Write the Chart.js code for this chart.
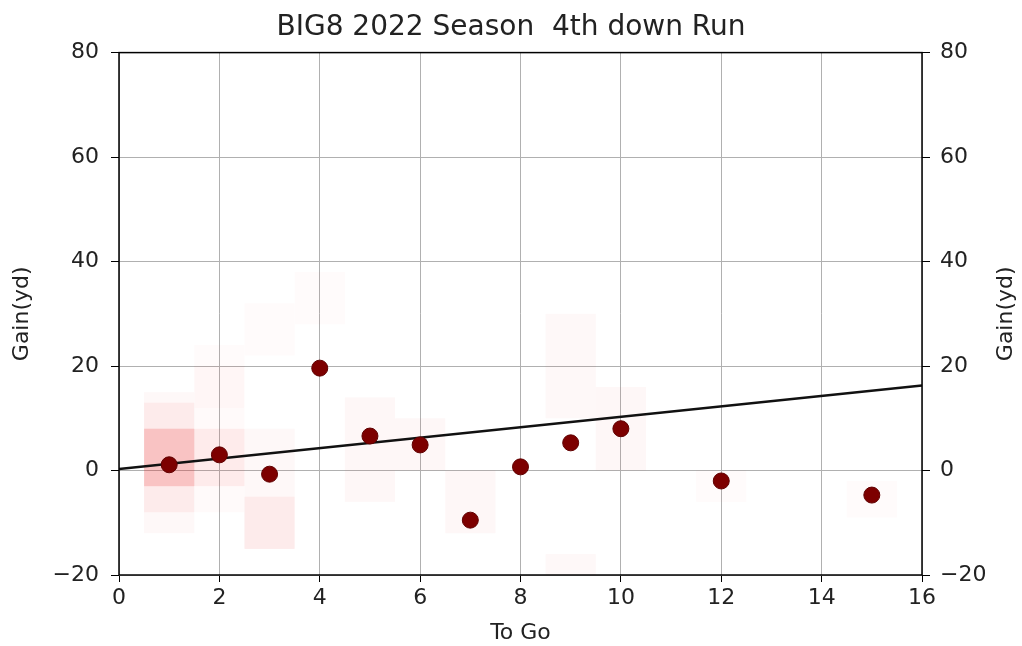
<!DOCTYPE html>
<html>
<head>
<meta charset="utf-8">
<script src="https://cdn.jsdelivr.net/npm/chart.js@4"></script>
<style>
  html, body { margin: 0; padding: 0; background: #fff; }
  #wrap { width: 1022px; height: 646px; }
</style>
</head>
<body>
<div id="wrap"><canvas id="chart"></canvas></div>
<script>
// scatter: yards to go vs average gain
const toGo = [1, 2, 3, 4, 5, 6, 7, 8, 9, 10, 12, 15];
const gain = [1.1, 3.0, -0.7, 19.6, 6.6, 4.9, -9.5, 0.7, 5.3, 8.0, -2.0, -4.7];

// fitted line end points
const fitX = [0, 16];
const fitY = [0.3, 16.3];

// faint density cells behind the points: x range, y range, intensity
const heatX0 = [0.5, 0.5, 0.5, 1.5, 1.5, 2.5, 2.5, 2.5, 3.5, 4.5, 5.5, 6.5, 8.5, 8.5, 9.5, 11.5, 14.5, 1.5];
const heatX1 = [1.5, 1.5, 1.5, 2.5, 2.5, 3.5, 3.5, 3.5, 4.5, 5.5, 6.5, 7.5, 9.5, 9.5, 10.5, 12.5, 15.5, 2.5];
const heatY0 = [-3, -8, -12, -3, -8, -15, -15, 22, 28, -6, 0, -12, 10, -20, 0, -6, -9, 12];
const heatY1 = [8, 13, 15, 8, 20, -5, 8, 32, 38, 14, 10, 0, 30, -16, 16, 0, -2, 24];
const heatA = [0.2, 0.06, 0.03, 0.07, 0.025, 0.06, 0.03, 0.02, 0.02, 0.04, 0.04, 0.04, 0.03, 0.03, 0.04, 0.02, 0.02, 0.02];

const xTicks = [0, 2, 4, 6, 8, 10, 12, 14, 16];
const yTicks = [-20, 0, 20, 40, 60, 80];

const font = 'DejaVu Sans';
const minusLabel = (v) => (v < 0 ? '\u2212' + Math.abs(v) : String(v));

const heatPlugin = {
  id: 'heat',
  beforeDatasetsDraw(chart) {
    const { ctx, chartArea, scales } = chart;
    ctx.save();
    ctx.beginPath();
    ctx.rect(chartArea.left, chartArea.top, chartArea.width, chartArea.height);
    ctx.clip();
    for (let i = 0; i < heatX0.length; i++) {
      const l = scales.x.getPixelForValue(heatX0[i]);
      const r = scales.x.getPixelForValue(heatX1[i]);
      const t = scales.y.getPixelForValue(heatY1[i]);
      const b = scales.y.getPixelForValue(heatY0[i]);
      ctx.fillStyle = 'rgba(235, 40, 40, ' + heatA[i] + ')';
      ctx.fillRect(l, t, r - l, b - t);
    }
    ctx.restore();
  }
};

const framePlugin = {
  id: 'frame',
  afterDraw(chart) {
    const { ctx, chartArea } = chart;
    ctx.save();
    ctx.strokeStyle = '#000';
    ctx.lineWidth = 1.5;
    ctx.strokeRect(chartArea.left, chartArea.top, chartArea.width, chartArea.height);
    // right axis title, reading bottom to top like the left one
    ctx.fillStyle = '#222';
    ctx.font = '22px "' + font + '"';
    ctx.textAlign = 'center';
    ctx.textBaseline = 'middle';
    ctx.translate(1006, (chartArea.top + chartArea.bottom) / 2);
    ctx.rotate(-Math.PI / 2);
    ctx.fillText('Gain(yd)', 0, 0);
    ctx.restore();
  }
};

new Chart(document.getElementById('chart'), {
  type: 'scatter',
  data: {
    datasets: [
      {
        label: 'fit',
        type: 'line',
        data: fitX.map((x, i) => ({ x: x, y: fitY[i] })),
        borderColor: '#111',
        borderWidth: 2.5,
        pointRadius: 0,
        fill: false,
        order: 1,
      },
      {
        label: 'gain',
        data: toGo.map((x, i) => ({ x: x, y: gain[i] })),
        backgroundColor: '#7d0000',
        borderColor: '#600000',
        borderWidth: 1,
        pointRadius: 8,
        order: 0,
      },
    ],
  },
  options: {
    responsive: true,
    maintainAspectRatio: false,
    animation: false,
    layout: { padding: 0 },
    plugins: {
      legend: { display: false },
      tooltip: { enabled: false },
      title: {
        display: true,
        text: 'BIG8 2022 Season  4th down Run',
        color: '#222',
        font: { family: font, size: 28, weight: 'normal' },
        padding: { top: 11, bottom: 8 },
      },
    },
    scales: {
      x: {
        type: 'linear',
        min: 0,
        max: 16,
        afterBuildTicks: (axis) => { axis.ticks = xTicks.map(v => ({ value: v })); },
        afterFit: (axis) => { axis.height = 71; },
        grid: { color: '#b0b0b0', lineWidth: 1, tickLength: 7, tickColor: '#000' },
        border: { display: false },
        ticks: { color: '#222', font: { family: font, size: 22 }, padding: 3, callback: minusLabel },
        title: { display: true, text: 'To Go', color: '#222', font: { family: font, size: 22 }, padding: { top: 0, bottom: 0 } },
      },
      y: {
        type: 'linear',
        position: 'left',
        min: -20,
        max: 80,
        afterBuildTicks: (axis) => { axis.ticks = yTicks.map(v => ({ value: v })); },
        afterFit: (axis) => { axis.width = 119; },
        grid: { color: '#b0b0b0', lineWidth: 1, tickLength: 8, tickColor: '#000' },
        border: { display: false },
        ticks: { color: '#222', font: { family: font, size: 22 }, padding: 12, callback: minusLabel },
        title: { display: true, text: 'Gain(yd)', color: '#222', font: { family: font, size: 22 }, padding: { top: 9, bottom: 0 } },
      },
      y2: {
        type: 'linear',
        position: 'right',
        min: -20,
        max: 80,
        afterBuildTicks: (axis) => { axis.ticks = yTicks.map(v => ({ value: v })); },
        afterFit: (axis) => { axis.width = 100; },
        grid: { drawOnChartArea: false, tickLength: 8, tickColor: '#000' },
        border: { display: false },
        ticks: { color: '#222', font: { family: font, size: 22 }, padding: 10, callback: minusLabel },
      },
    },
  },
  plugins: [heatPlugin, framePlugin],
});
</script>
</body>
</html>
